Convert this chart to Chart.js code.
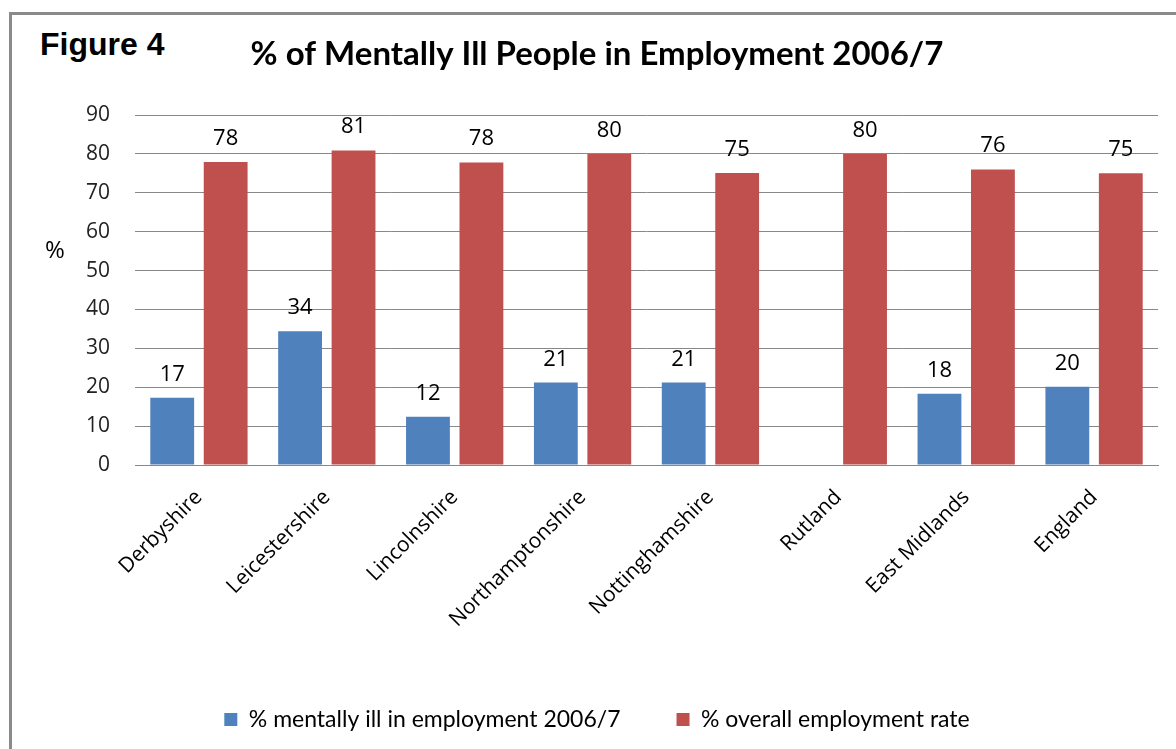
<!DOCTYPE html>
<html>
<head>
<meta charset="utf-8">
<script src="https://cdn.jsdelivr.net/npm/chart.js@4/dist/chart.umd.min.js"></script>
<style>
  html, body { margin: 0; padding: 0; background: #fff; overflow: hidden; width: 1176px; height: 749px; }
  #frame { position: absolute; left: 9px; top: 12px; width: 1200px; height: 800px; border: 3px solid #8a8a8a; box-sizing: border-box; }
  #fig { position: absolute; left: 40px; top: 26px; font: bold 32px "Liberation Sans", Arial, sans-serif; color: #000; line-height: 37px; }
  #wrap { position: absolute; left: 9px; top: 0; width: 1176px; height: 749px; }
</style>
</head>
<body>
<div id="frame"></div>
<div id="fig">Figure 4</div>
<div id="wrap"><canvas id="c" width="1176" height="749"></canvas></div>
<script>
const categories = ["Derbyshire", "Leicestershire", "Lincolnshire", "Northamptonshire", "Nottinghamshire", "Rutland", "East Midlands", "England"];
const mentallyIll = [17.3, 34.4, 12.4, 21.2, 21.2, null, 18.3, 20.1];
const overallRate = [77.9, 80.9, 77.8, 80.0, 75.1, 80.0, 76.0, 75.0];
const mentallyIllLabels = ["17", "34", "12", "21", "21", "", "18", "20"];
const overallRateLabels = ["78", "81", "78", "80", "75", "80", "76", "75"];
const yTicks = [0, 10, 20, 30, 40, 50, 60, 70, 80, 90];

const valueLabels = {
  id: 'valueLabels',
  afterDatasetsDraw(chart) {
    const ctx = chart.ctx;
    const labelSets = [mentallyIllLabels, overallRateLabels];
    ctx.save();
    ctx.font = '22px "Open Sans", sans-serif';
    ctx.fillStyle = '#000';
    ctx.textAlign = 'center';
    ctx.textBaseline = 'alphabetic';
    chart.data.datasets.forEach((ds, i) => {
      chart.getDatasetMeta(i).data.forEach((bar, j) => {
        const t = labelSets[i][j];
        if (!t || ds.data[j] == null) return;
        ctx.fillText(t, bar.x, bar.y - 17);
      });
    });
    // axis title "%"
    const ys = chart.scales.y;
    ctx.font = '24px "Open Sans", sans-serif';
    ctx.textBaseline = 'middle';
    ctx.fillText('%', 46, ys.getPixelForValue(55));
    ctx.restore();
  }
};

new Chart(document.getElementById('c'), {
  type: 'bar',
  data: {
    labels: categories,
    datasets: [
      { label: '% mentally ill in employment 2006/7', data: mentallyIll, backgroundColor: '#4F81BD', barPercentage: 0.82, categoryPercentage: 0.836 },
      { label: '% overall employment rate', data: overallRate, backgroundColor: '#C0504D', barPercentage: 0.82, categoryPercentage: 0.836 }
    ]
  },
  options: {
    responsive: false,
    animation: false,
    layout: { padding: { left: 27, right: 27, top: 0, bottom: 8 } },
    plugins: {
      title: {
        display: true,
        text: '% of Mentally Ill People in Employment 2006/7',
        font: { family: 'Lato', size: 33, weight: 'bold' },
        color: '#000',
        padding: { top: 35, bottom: 40.4 }
      },
      legend: {
        position: 'bottom',
        labels: {
          font: { family: 'Lato', size: 23 },
          color: '#000',
          boxWidth: 13,
          boxHeight: 13,
          padding: 56
        }
      },
      tooltip: { enabled: false }
    },
    scales: {
      x: {
        grid: { display: false, drawTicks: false },
        border: { display: true, color: '#888', width: 1 },
        ticks: {
          font: { family: 'Open Sans', size: 21 },
          color: '#000',
          minRotation: 45,
          maxRotation: 45,
          padding: 20,
          autoSkip: false
        },
        afterFit(scale) { scale.height = 187; }
      },
      y: {
        min: 0,
        max: 90,
        afterBuildTicks(scale) { scale.ticks = yTicks.map(v => ({ value: v })); },
        grid: { color: '#888', lineWidth: 1, drawTicks: false },
        border: { display: false },
        ticks: {
          font: { family: 'Open Sans', size: 21 },
          color: '#222',
          padding: 25
        },
        afterFit(scale) { scale.width = 99; }
      }
    }
  },
  plugins: [valueLabels]
});
</script>
</body>
</html>
